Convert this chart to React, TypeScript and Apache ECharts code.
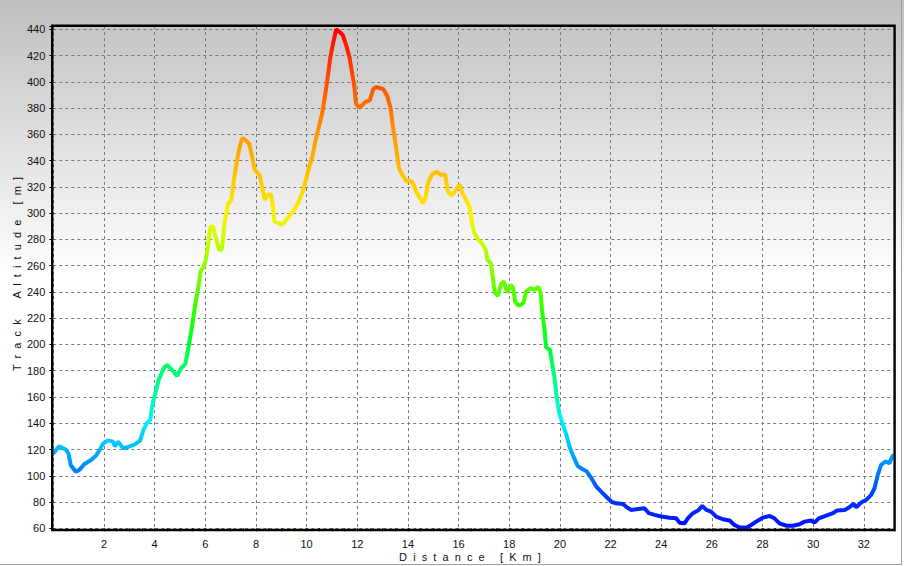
import React, { useEffect, useRef } from "react";
import * as echarts from "echarts";

// Track distance (km) and altitude (m)
const distanceKm = [
  0.0, 0.23, 0.49, 0.6, 0.69, 0.89, 1.03, 1.23, 1.49, 1.69, 1.83, 1.96, 2.16, 2.36, 2.43, 2.56, 2.76, 2.96,
  3.23, 3.43, 3.56, 3.69, 3.83, 3.9, 4.03, 4.16, 4.36, 4.49, 4.69, 4.88, 5.05, 5.21, 5.34, 5.47, 5.6, 5.73,
  5.82, 5.93, 6.03, 6.13, 6.2, 6.3, 6.43, 6.56, 6.66, 6.77, 6.9, 7.03, 7.12, 7.25, 7.36, 7.46, 7.56, 7.73,
  7.82, 7.95, 8.14, 8.25, 8.34, 8.47, 8.6, 8.67, 8.73, 8.9, 9.03, 9.25, 9.45, 9.65, 9.84, 9.97, 10.1, 10.22,
  10.35, 10.48, 10.61, 10.7, 10.81, 10.94, 11.07, 11.17, 11.3, 11.43, 11.56, 11.69, 11.79, 11.88, 11.95,
  12.08, 12.31, 12.5, 12.63, 12.76, 13.02, 13.18, 13.31, 13.41, 13.54, 13.65, 13.8, 13.96, 14.13, 14.22,
  14.33, 14.46, 14.59, 14.7, 14.78, 14.95, 15.14, 15.31, 15.47, 15.57, 15.7, 15.83, 16.04, 16.13, 16.31,
  16.44, 16.52, 16.61, 16.75, 16.94, 17.07, 17.14, 17.27, 17.36, 17.42, 17.55, 17.68, 17.79, 17.92, 18.05,
  18.14, 18.24, 18.38, 18.56, 18.67, 18.85, 19.0, 19.15, 19.24, 19.3, 19.4, 19.45, 19.61, 19.69, 19.78,
  19.87, 19.97, 20.1, 20.26, 20.39, 20.55, 20.7, 20.9, 21.05, 21.25, 21.45, 21.65, 21.83, 22.05, 22.22,
  22.49, 22.64, 22.82, 23.01, 23.34, 23.51, 23.74, 24.0, 24.33, 24.59, 24.72, 24.92, 25.05, 25.25, 25.45,
  25.62, 25.78, 25.97, 26.17, 26.43, 26.7, 26.89, 27.09, 27.36, 27.55, 27.75, 28.01, 28.28, 28.47, 28.67,
  28.93, 29.2, 29.46, 29.66, 29.92, 30.05, 30.22, 30.51, 30.78, 30.93, 31.24, 31.43, 31.59, 31.7, 31.89,
  32.09, 32.29, 32.42, 32.55, 32.68, 32.86, 33.01, 33.12, 33.19,
];
const altitudeM = [
  117, 122.5, 120, 117, 108, 103, 104.5, 109, 112, 115.5, 119.5, 124.5, 127, 126, 122.5, 126, 121, 122,
  124, 127, 135, 140, 142.5, 153, 163, 173, 182, 184.5, 180.5, 176, 182, 185, 198, 213, 230, 244,
  256, 259, 265, 279, 289.5, 290, 280, 271.5, 273, 294, 307, 310, 324, 340, 350.5, 357, 356, 353,
  345.5, 333, 329, 320, 310, 314, 314, 305, 293.5, 292.5, 291, 296, 301, 307, 316, 325, 335, 342.5,
  355, 365.5, 375.5, 386, 400, 419, 431.5, 440, 438, 435.5, 428, 419, 407.5, 397, 383.5,
  380, 384.5, 386, 394.5, 396, 394.5, 389.5, 380.5, 365.5, 349, 334, 328.5, 324, 324.5, 322,
  316, 312, 307.5, 312, 322, 329.5, 331.5, 329, 329.5, 317, 313.5, 315.5, 322, 316, 309.5,
  304.5, 293.5, 285.5, 280.5, 276.5, 272, 264.5, 262, 250, 240, 237, 246, 248, 239.5, 245,
  244, 232, 229.5, 231.5, 240.5, 243, 241.5, 244, 239.5, 225, 210, 198, 196, 186, 175.5,
  160.5, 148, 140, 131, 121.5, 114, 107.5, 105, 103.5, 98, 91.5, 87.5, 84, 80, 79,
  78.5, 76, 74, 74.5, 75.3, 71.5, 70.2, 69, 68.1, 67.6, 64.3, 63.8, 67.6, 71.5, 73.5,
  77, 74, 72.7, 68.9, 66.9, 65.9, 62.5, 60.8, 60.5, 62.5, 65.1, 68.1, 69.4, 67.6, 63.8,
  62, 62, 63.1, 65.1, 65.9, 64.3, 67.6, 69.7, 71.5, 73.5, 74, 76, 78.6, 76, 79.6,
  81.6, 85.4, 90.5, 100.7, 108.3, 110.9, 109.6, 114.7, 116,
];

// Axis ranges / ticks
const xMin = 0;
const xMax = 33.19;
const xInterval = 2;
const yMin = 60;
const yMax = 442.5;
const yInterval = 20;

// Altitude colour ramp, evenly spread over 60 .. 440 m
const colorMin = 60;
const colorMax = 440;
const altitudeColors = [
  "#0010ff", "#0030ff", "#0070ff", "#00b8ff", "#00f0ff", "#00ffb0", "#00ff70", "#00ff30", "#20ff00",
  "#58ff00", "#90ff00", "#c8ff00", "#fff000", "#ffd000", "#ffb400", "#ff9800", "#ff7000", "#ff5000",
  "#ff2800", "#ff0000",
];

const xName = "D  i  s  t  a  n  c  e     [  K  m  ]";
const yName = "T  r  a  c  k       A  l  t  i  t  u  d  e     [  m  ]";

const FONT = "'Liberation Sans', Arial, sans-serif";

export default function App() {
  const ref = useRef<HTMLDivElement>(null);

  useEffect(() => {
    if (!ref.current) return;
    const chart = echarts.init(ref.current, null, { renderer: "svg" });
    const data = distanceKm.map((d, i) => [d, altitudeM[i]]);

    const gridLine = { color: "#7a7a7a", type: [3, 3], width: 1 };
    const tickLine = { color: "#000", width: 1 };
    const label = { color: "#111", fontSize: 11, fontFamily: FONT };

    chart.setOption({
      animation: false,
      backgroundColor: "transparent",
      grid: { left: 53.3, top: 26, width: 840.7, height: 502.3, containLabel: false },
      xAxis: {
        type: "value",
        min: xMin,
        max: xMax,
        interval: xInterval,
        axisLine: { show: false },
        axisTick: { show: true, length: 3, lineStyle: tickLine },
        minorTick: { show: true, splitNumber: 4, length: 3, lineStyle: tickLine },
        axisLabel: { ...label, margin: 10, showMinLabel: false, showMaxLabel: false },
        splitLine: { show: true, lineStyle: gridLine },
        minorSplitLine: { show: false },
      },
      yAxis: {
        type: "value",
        min: yMin,
        max: yMax,
        interval: yInterval,
        axisLine: { show: false },
        axisTick: { show: true, length: 4, lineStyle: tickLine },
        minorTick: { show: true, splitNumber: 5, length: 2, lineStyle: tickLine },
        axisLabel: { ...label, margin: 8, showMaxLabel: false },
        splitLine: { show: true, lineStyle: gridLine },
        minorSplitLine: { show: false },
      },
      visualMap: {
        show: false,
        type: "continuous",
        dimension: 1,
        min: colorMin,
        max: colorMax,
        inRange: { color: altitudeColors },
      },
      series: [
        {
          type: "line",
          data,
          showSymbol: false,
          symbol: "none",
          lineStyle: { width: 4 },
          clip: true,
          z: 3,
        },
      ],
      graphic: [
        {
          type: "rect",
          silent: true,
          z: 100,
          shape: { x: 52.2, y: 25.7, width: 842.4, height: 504.3 },
          style: { fill: null, stroke: "#000", lineWidth: 2.4 },
        },
        {
          type: "text",
          silent: true,
          x: 17,
          y: 274,
          rotation: Math.PI / 2,
          style: {
            text: yName,
            fill: "#111",
            font: `11px ${FONT}`,
            textAlign: "center",
            textVerticalAlign: "middle",
          },
        },
        {
          type: "text",
          silent: true,
          x: 470,
          y: 557,
          style: {
            text: xName,
            fill: "#111",
            font: `11px ${FONT}`,
            textAlign: "center",
            textVerticalAlign: "middle",
          },
        },
        {
          type: "line",
          silent: true,
          shape: { x1: 0, y1: 564.5, x2: 902, y2: 564.5 },
          style: { stroke: "#a0a0a0", lineWidth: 1 },
        },
        {
          type: "line",
          silent: true,
          shape: { x1: 901.5, y1: 0, x2: 901.5, y2: 565 },
          style: { stroke: "#a0a0a0", lineWidth: 1 },
        },
      ],
    });

    return () => chart.dispose();
  }, []);

  return (
    <div
      ref={ref}
      style={{
        position: "fixed",
        left: 0,
        top: 0,
        width: 904,
        height: 566,
        background: "linear-gradient(to bottom, #bfbfbf 0%, #ffffff 49%, #ffffff 100%)",
      }}
    />
  );
}
